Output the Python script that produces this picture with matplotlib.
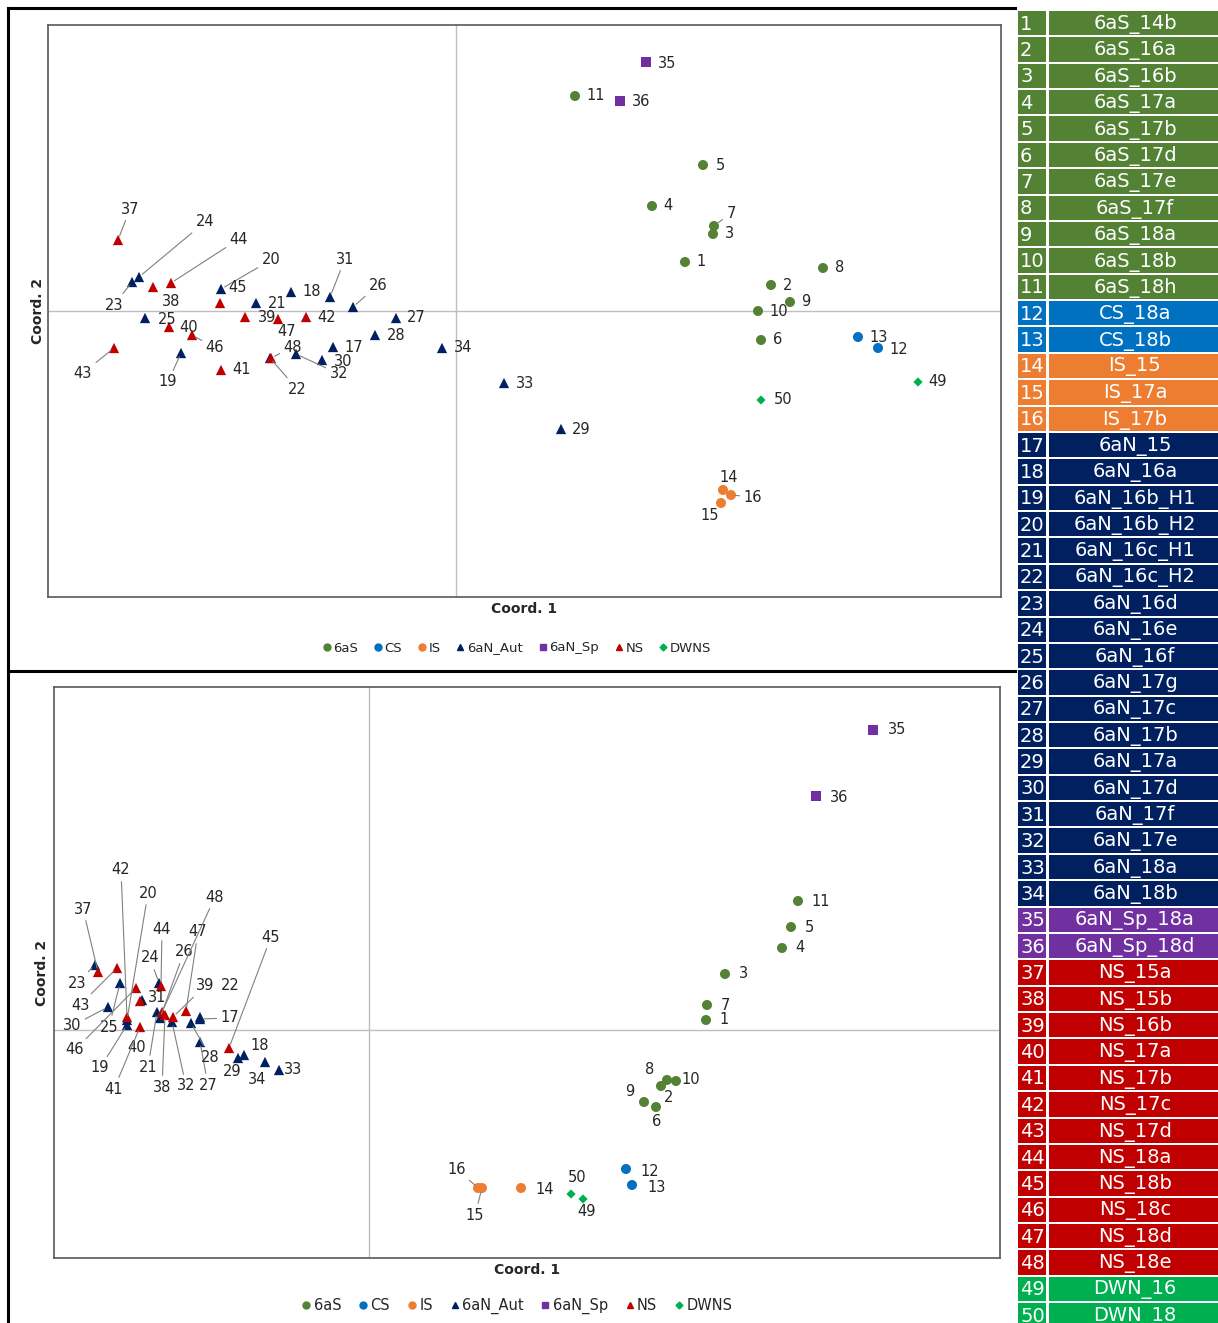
import matplotlib
matplotlib.use('Agg')
import matplotlib.pyplot as plt
from matplotlib.lines import Line2D
from matplotlib.patches import Rectangle

plt.rcParams['font.family'] = ['DejaVu Sans']

# sample names (table on the right) and their group
names = ['6aS_14b', '6aS_16a', '6aS_16b', '6aS_17a', '6aS_17b', '6aS_17d', '6aS_17e', '6aS_17f',
         '6aS_18a', '6aS_18b', '6aS_18h', 'CS_18a', 'CS_18b', 'IS_15', 'IS_17a', 'IS_17b',
         '6aN_15', '6aN_16a', '6aN_16b_H1', '6aN_16b_H2', '6aN_16c_H1', '6aN_16c_H2', '6aN_16d',
         '6aN_16e', '6aN_16f', '6aN_17g', '6aN_17c', '6aN_17b', '6aN_17a', '6aN_17d', '6aN_17f',
         '6aN_17e', '6aN_18a', '6aN_18b', '6aN_Sp_18a', '6aN_Sp_18d', 'NS_15a', 'NS_15b', 'NS_16b',
         'NS_17a', 'NS_17b', 'NS_17c', 'NS_17d', 'NS_18a', 'NS_18b', 'NS_18c', 'NS_18d', 'NS_18e',
         'DWN_16', 'DWN_18']
groups = ['6aS'] * 11 + ['CS'] * 2 + ['IS'] * 3 + ['6aN_Aut'] * 18 + ['6aN_Sp'] * 2 + ['NS'] * 12 + ['DWNS'] * 2
group_order = ['6aS', 'CS', 'IS', '6aN_Aut', '6aN_Sp', 'NS', 'DWNS']

# top panel coordinates (Coord. 1, Coord. 2)
top_x = [2.29, 3.15, 2.57, 1.96, 2.47, 3.05, 2.58, 3.67, 3.34, 3.02,
         1.19, 4.22, 4.02, 2.67, 2.65, 2.75, -1.23, -1.65, -2.75, -2.35,
         -2.00, -1.86, -3.24, -3.17, -3.11, -1.03, -0.60, -0.81, 1.05, -1.34,
         -1.26, -1.60, 0.48, -0.14, 1.90, 1.64, -3.38, -3.03, -2.11, -2.87,
         -2.35, -1.50, -3.42, -2.85, -2.36, -2.64, -1.78, -1.85, 4.62, 3.05]
top_y = [0.49, 0.26, 0.77, 1.05, 1.46, -0.29, 0.85, 0.43, 0.09, 0.00,
         2.15, -0.37, -0.26, -1.79, -1.92, -1.84, -0.36, 0.19, -0.42, 0.22,
         0.08, -0.47, 0.29, 0.34, -0.07, 0.04, -0.07, -0.24, -1.18, -0.49,
         0.14, -0.43, -0.72, -0.37, 2.49, 2.10, 0.71, 0.24, -0.06, -0.16,
         -0.59, -0.06, -0.37, 0.28, 0.08, -0.24, -0.08, -0.47, -0.71, -0.89]

# bottom panel coordinates
bot_x = [3.37, 2.92, 3.56, 4.13, 4.22, 2.87, 3.38, 2.98, 2.75, 3.07,
         4.29, 2.57, 2.63, 1.52, 1.13, 1.09, -1.69, -1.25, -2.42, -2.42,
         -2.12, -1.69, -2.74, -2.10, -2.49, -2.09, -1.69, -1.78, -1.31, -2.61,
         -2.27, -1.97, -0.90, -1.04, 5.04, 4.47, -2.71, -2.04, -1.96, -2.29,
         -2.29, -2.42, -2.52, -2.08, -1.40, -2.33, -1.83, -2.07, 2.14, 2.02]
bot_y = [0.10, -0.56, 0.56, 0.82, 1.03, -0.77, 0.25, -0.50, -0.72, -0.51,
         1.29, -1.39, -1.55, -1.58, -1.58, -1.58, 0.11, -0.25, 0.05, 0.10,
         0.18, 0.13, 0.65, 0.47, 0.47, 0.12, -0.12, 0.07, -0.28, 0.23,
         0.30, 0.08, -0.40, -0.32, 3.00, 2.34, 0.58, 0.15, 0.13, 0.29,
         0.03, 0.13, 0.62, 0.44, -0.18, 0.42, 0.19, 0.18, -1.69, -1.64]

colors = {'6aS': '#548235', 'CS': '#0070C0', 'IS': '#ED7D31', '6aN_Aut': '#002060',
          '6aN_Sp': '#7030A0', 'NS': '#C00000', 'DWNS': '#00B050'}
markers = {'6aS': 'o', 'CS': 'o', 'IS': 'o', '6aN_Aut': '^', '6aN_Sp': 's', 'NS': '^', 'DWNS': 'D'}
msize = {'6aS': 52, 'CS': 52, 'IS': 52, '6aN_Aut': 55, '6aN_Sp': 45, 'NS': 55, 'DWNS': 22}

# label placement: id -> (dx, dy) in pixels (dy down), leader line flag
top_lab = {1: (16, 0, 0), 2: (17, 0, 0), 3: (17, 0, 0), 4: (16, 0, 0), 5: (17, 0, 0), 6: (17, 0, 0),
           7: (17, -13, 1), 8: (17, 0, 0), 9: (16, 0, 0), 10: (21, 0, 0), 11: (21, 0, 0), 12: (21, 1, 0),
           13: (21, 0, 0), 14: (6, -12, 0), 15: (-11, 13, 0), 16: (22, 2, 1), 17: (21, 0, 0), 18: (21, 0, 0),
           19: (-13, 29, 1), 20: (50, -29, 1), 21: (21, 1, 0), 22: (27, 31, 1), 23: (-18, 23, 1),
           24: (66, -55, 1), 25: (22, 1, 0), 26: (25, -22, 1), 27: (20, 0, 0), 28: (21, 0, 0),
           29: (20, 0, 0), 30: (21, 1, 0), 31: (15, -38, 1), 32: (43, 20, 1), 33: (21, 0, 0),
           34: (21, 0, 0), 35: (21, 1, 0), 36: (21, 1, 0), 37: (12, -31, 1), 38: (18, 14, 0),
           39: (22, 1, 0), 40: (20, 0, 0), 41: (21, 0, 0), 42: (21, 1, 0), 43: (-31, 25, 1),
           44: (68, -44, 1), 45: (18, -16, 0), 46: (23, 13, 1), 47: (9, 12, 0), 48: (22, -11, 1),
           49: (20, 0, 0), 50: (22, 0, 0)}
bot_lab = {1: (18, 0, 0), 2: (8, 12, 0), 3: (18, 0, 0), 4: (18, 0, 0), 5: (18, 0, 0), 6: (1, 15, 0),
           7: (18, 0, 0), 8: (-17, -11, 0), 9: (-14, -11, 0), 10: (15, -2, 0), 11: (23, 0, 0),
           12: (24, 2, 0), 13: (25, 2, 0), 14: (24, 1, 0), 15: (-7, 27, 1), 16: (-21, -19, 1),
           17: (30, -1, 1), 18: (16, -10, 0), 19: (-27, 43, 1), 20: (21, -127, 1), 21: (-9, 55, 1),
           22: (30, -31, 0), 23: (-18, 18, 1), 24: (-9, -25, 1), 25: (-11, 44, 1), 26: (24, -66, 1),
           27: (8, 43, 1), 28: (19, 34, 1), 29: (-6, 13, 0), 30: (-36, 19, 1), 31: (15, -3, 0),
           32: (14, 64, 1), 33: (14, -1, 0), 34: (-8, 18, 0), 35: (24, 0, 0), 36: (23, 1, 0),
           37: (-15, -63, 1), 38: (-3, 72, 1), 39: (32, -31, 1), 40: (-3, 46, 0), 41: (-26, 62, 1),
           42: (-6, -147, 1), 43: (-37, 37, 1), 44: (1, -57, 1), 45: (42, -111, 1), 46: (-61, 62, 1),
           47: (12, -79, 1), 48: (53, -115, 1), 49: (4, 13, 0), 50: (6, -16, 0)}

W, H = 1218, 1323
fig = plt.figure(figsize=(W / 100, H / 100), dpi=100)


def draw_panel(rect, xs, ys, xlim, ylim, labs, c1_y, c2_x, leg_y, leg_fs):
    ax = fig.add_axes([rect[0] / W, 1 - rect[3] / H, (rect[2] - rect[0]) / W, (rect[3] - rect[1]) / H])
    ax.set_xlim(*xlim)
    ax.set_ylim(*ylim)
    ax.axhline(0, color='#bfbfbf', lw=1, zorder=0)
    ax.axvline(0, color='#bfbfbf', lw=1, zorder=0)
    for g in group_order:
        idx = [i for i in range(len(groups)) if groups[i] == g]
        ax.scatter([xs[i] for i in idx], [ys[i] for i in idx], s=msize[g], marker=markers[g],
                   color=colors[g], edgecolors='none', zorder=3)
    for i in range(len(xs)):
        dx, dy, lead = labs[i + 1]
        ap = None
        if lead:
            ap = dict(arrowstyle='-', color='#808080', lw=0.8, shrinkA=1, shrinkB=3)
        ax.annotate(str(i + 1), xy=(xs[i], ys[i]), xytext=(dx, -dy), textcoords='offset pixels',
                    ha='center', va='center', fontsize=10.5, color='#262626', arrowprops=ap, zorder=4)
    ax.set_xticks([])
    ax.set_yticks([])
    for s in ax.spines.values():
        s.set_color('#595959')
        s.set_linewidth(1.2)
    fig.text(((rect[0] + rect[2]) / 2) / W, 1 - c1_y / H, 'Coord. 1', ha='center', va='center',
             fontsize=10, fontweight='bold', color='#262626')
    fig.text(c2_x / W, 1 - ((rect[1] + rect[3]) / 2) / H, 'Coord. 2', ha='center', va='center',
             rotation=90, fontsize=10, fontweight='bold', color='#262626')
    handles = [Line2D([], [], ls='none', marker=markers[g], color=colors[g],
                      markersize=5 if markers[g] != 'D' else 3.5) for g in group_order]
    fig.legend(handles, group_order, loc='center', bbox_to_anchor=(515 / W, 1 - leg_y / H),
               ncol=7, frameon=False, fontsize=leg_fs, handletextpad=-0.1, columnspacing=0.9,
               handlelength=1.2, labelcolor='#262626')
    return ax


draw_panel((48, 25, 1001, 597), top_x, top_y, (-4.08, 5.45), (-2.86, 2.86), top_lab, 609, 38, 648, 9.5)
draw_panel((54, 687, 1000, 1258), bot_x, bot_y, (-3.15, 6.31), (-2.28, 3.43), bot_lab, 1270, 42, 1306, 10.5)

# overlay for frame lines and the sample table
ov = fig.add_axes([0, 0, 1, 1], zorder=-1)
ov.set_xlim(0, W)
ov.set_ylim(H, 0)
ov.axis('off')
ov.plot([8, 8], [8, H], color='black', lw=2.2)
ov.plot([8, 1015], [8, 8], color='black', lw=2.2)
ov.plot([8, 1015], [671, 671], color='black', lw=2.2)

row_h = 26.37
for i, (nm, g) in enumerate(zip(names, groups)):
    top = 11 + i * row_h
    c = colors[g]
    ov.add_patch(Rectangle((1018, top), 28, row_h - 2, color=c, lw=0))
    ov.add_patch(Rectangle((1049, top), 175, row_h - 2, color=c, lw=0))
    ov.text(1020, top + row_h / 2, str(i + 1), ha='left', va='center', color='white', fontsize=14)
    ov.text(1135, top + row_h / 2, nm, ha='center', va='center', color='white', fontsize=14)

fig.savefig('out.png', dpi=100)
